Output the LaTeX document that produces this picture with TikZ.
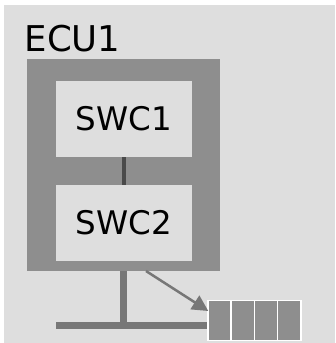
\documentclass[tikz,border=0pt]{standalone}
\usepackage{fontspec}
\setmainfont{DejaVu Sans}
\usetikzlibrary{arrows.meta}
\definecolor{bg}{HTML}{DEDEDE}
\definecolor{ecu}{HTML}{8E8E8E}
\definecolor{wire}{HTML}{777777}
\definecolor{link}{HTML}{4A4A4A}
\tikzset{
  swcbox/.style={fill=bg, draw=none, minimum width=136pt, minimum height=76pt, inner sep=0pt, font=\fontsize{32.5}{36}\selectfont},
  cell/.style={fill=ecu, draw=white, line width=1.5pt, minimum width=23.2pt, minimum height=40pt, inner sep=0pt},
}
\begin{document}
\begin{tikzpicture}[x=1pt,y=-1pt]
\useasboundingbox (0,0) rectangle (335,343);
\fill[white] (0,0) rectangle (335,343);
\fill[bg] (4,5) rectangle (335,343);
\node[anchor=base west, inner sep=0pt, font=\fontsize{35.5}{40}\selectfont] (title) at (24.5,51) {ECU1};
\node[fill=ecu, draw=none, minimum width=193pt, minimum height=212pt, inner sep=0pt] (ecu) at (123.6,165) {};
\node[swcbox] (swc1) at (124,119) {SWC1};
\node[swcbox] (swc2) at (124,223) {SWC2};
\draw[link, line width=4pt] (swc1.south) -- (swc2.north);
\node[cell] (q1) at (219.6,320.7) {};
\node[cell] (q2) at (242.8,320.7) {};
\node[cell] (q3) at (266.0,320.7) {};
\node[cell] (q4) at (289.2,320.7) {};
\coordinate (busL) at (56,325.5);
\coordinate (busT) at (123.5,325.5);
\coordinate (arrS) at (146,271);
\coordinate (arrE) at (208.3,311);
\draw[wire, line width=7pt] (ecu.south -| busT) -- (busT);
\draw[wire, line width=6.5pt] (busL) -- (q1.west |- busL);
\draw[wire, line width=2.5pt, -{Triangle[length=16pt,width=16pt]}] (arrS) -- (arrE);
\end{tikzpicture}
\end{document}
